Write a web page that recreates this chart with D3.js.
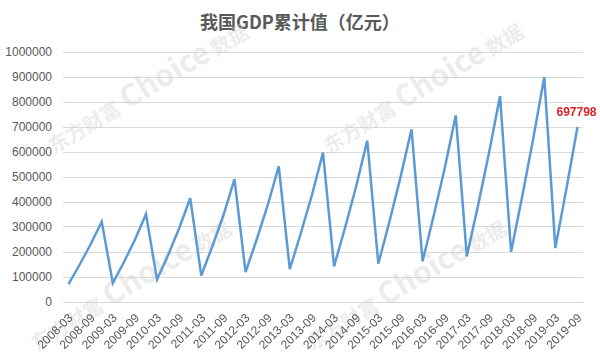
<!DOCTYPE html>
<html>
<head>
<meta charset="utf-8">
<script src="https://cdn.jsdelivr.net/npm/d3@7"></script>
<style>
  html, body { margin: 0; padding: 0; background: #fff; }
  svg { display: block; }
</style>
</head>
<body>
<svg id="chart" width="600" height="356"></svg>
<script>
// ---- data ----
const quarters = [
  "2008-03","2008-06","2008-09","2008-12",
  "2009-03","2009-06","2009-09","2009-12",
  "2010-03","2010-06","2010-09","2010-12",
  "2011-03","2011-06","2011-09","2011-12",
  "2012-03","2012-06","2012-09","2012-12",
  "2013-03","2013-06","2013-09","2013-12",
  "2014-03","2014-06","2014-09","2014-12",
  "2015-03","2015-06","2015-09","2015-12",
  "2016-03","2016-06","2016-09","2016-12",
  "2017-03","2017-06","2017-09","2017-12",
  "2018-03","2018-06","2018-09","2018-12",
  "2019-03","2019-06","2019-09"
];
const gdpCumulative = [
  69410, 147000, 229000, 319516,
  74053, 157000, 247000, 349081,
  87617, 186000, 293000, 413030,
  104064, 221000, 345000, 489301,
  117593, 247000, 385000, 540367,
  129747, 274000, 426000, 595244,
  140618, 296000, 461000, 643974,
  150987, 318305, 496531, 689052,
  161572, 342070, 532980, 744127,
  180683, 381490, 593288, 822000,
  198783, 418961, 650899, 898000,
  213433, 450933, 697798
];
const xTickLabels = quarters.filter((q, i) => i % 2 === 0);
const yTicks = [0,100000,200000,300000,400000,500000,600000,700000,800000,900000,1000000];
const title = "我国GDP累计值（亿元）";
const watermark = "东方财富Choice数据";

// ---- layout ----
const svg = d3.select("#chart");
const plotLeft = 63, plotRight = 583, plotTop = 51.5, plotBottom = 301.5;

const x = d3.scaleBand().domain(quarters).range([plotLeft, plotRight]).padding(0);
const y = d3.scaleLinear().domain([0, 1000000]).range([plotBottom, plotTop]);
const cx = d => x(d) + x.bandwidth() / 2;

// title
svg.append("text")
  .attr("x", 300).attr("y", 29)
  .attr("text-anchor", "middle")
  .attr("font-family", "'Noto Sans CJK SC', sans-serif")
  .attr("font-weight", "bold")
  .attr("font-size", 18)
  .attr("fill", "#595959")
  .text(title);

// gridlines
svg.append("g").selectAll("line").data(yTicks).join("line")
  .attr("x1", plotLeft).attr("x2", plotRight)
  .attr("y1", d => Math.round(y(d)) + 0.5).attr("y2", d => Math.round(y(d)) + 0.5)
  .attr("stroke", "#d9d9d9").attr("stroke-width", 1);

// y axis labels
const yAxis = d3.axisLeft(y).tickValues(yTicks).tickSize(0).tickPadding(0).tickFormat(d3.format("d"));
const yg = svg.append("g").attr("transform", `translate(${52},0)`).call(yAxis);
yg.select(".domain").remove();
yg.selectAll("text")
  .attr("font-family", "'Liberation Sans', Arial, sans-serif")
  .attr("font-size", 12)
  .attr("fill", "#595959");

// watermarks
const wmAnchors = [[54,154],[329,154],[37,351],[312,351]];
const wm = svg.append("g").attr("opacity", 0.4);
wmAnchors.forEach(([ax, ay]) => {
  const t = wm.append("text")
    .attr("transform", `translate(${ax},${ay}) rotate(-31)`)
    .attr("font-family", "'Noto Sans CJK SC', sans-serif")
    .attr("font-weight", "bold")
    .attr("fill", "#d0d0d0");
  t.append("tspan").attr("font-size", 20).text(watermark.slice(0, 4));
  t.append("tspan").attr("font-size", 30).attr("dx", 6).text(watermark.slice(4, 10));
  t.append("tspan").attr("font-size", 20).attr("dx", 4).text(watermark.slice(10));
});

// x axis labels
const xAxis = d3.axisBottom(x).tickValues(xTickLabels).tickSize(0).tickPadding(0);
const xg = svg.append("g").attr("transform", `translate(0,${plotBottom})`).call(xAxis);
xg.select(".domain").remove();
xg.selectAll(".tick text")
  .attr("font-family", "'Liberation Sans', Arial, sans-serif")
  .attr("font-size", 12)
  .attr("fill", "#595959")
  .attr("text-anchor", "end")
  .attr("dy", null)
  .attr("y", 0)
  .attr("transform", "translate(5,17) rotate(-45)");

// line
const data = quarters.map((q, i) => ({ q, v: gdpCumulative[i] }));
svg.append("path")
  .datum(data)
  .attr("fill", "none")
  .attr("stroke", "#5B9BD5")
  .attr("stroke-width", 2.5)
  .attr("stroke-linejoin", "miter")
  .attr("d", d3.line().x(d => cx(d.q)).y(d => y(d.v)));

// last value label
const last = data[data.length - 1];
svg.append("text")
  .attr("x", cx(last.q) - 21)
  .attr("y", y(last.v) - 11)
  .attr("font-family", "'Liberation Sans', Arial, sans-serif")
  .attr("font-weight", "bold")
  .attr("font-size", 12)
  .attr("fill", "#E0202A")
  .text(d3.format("d")(last.v));
</script>
</body>
</html>
